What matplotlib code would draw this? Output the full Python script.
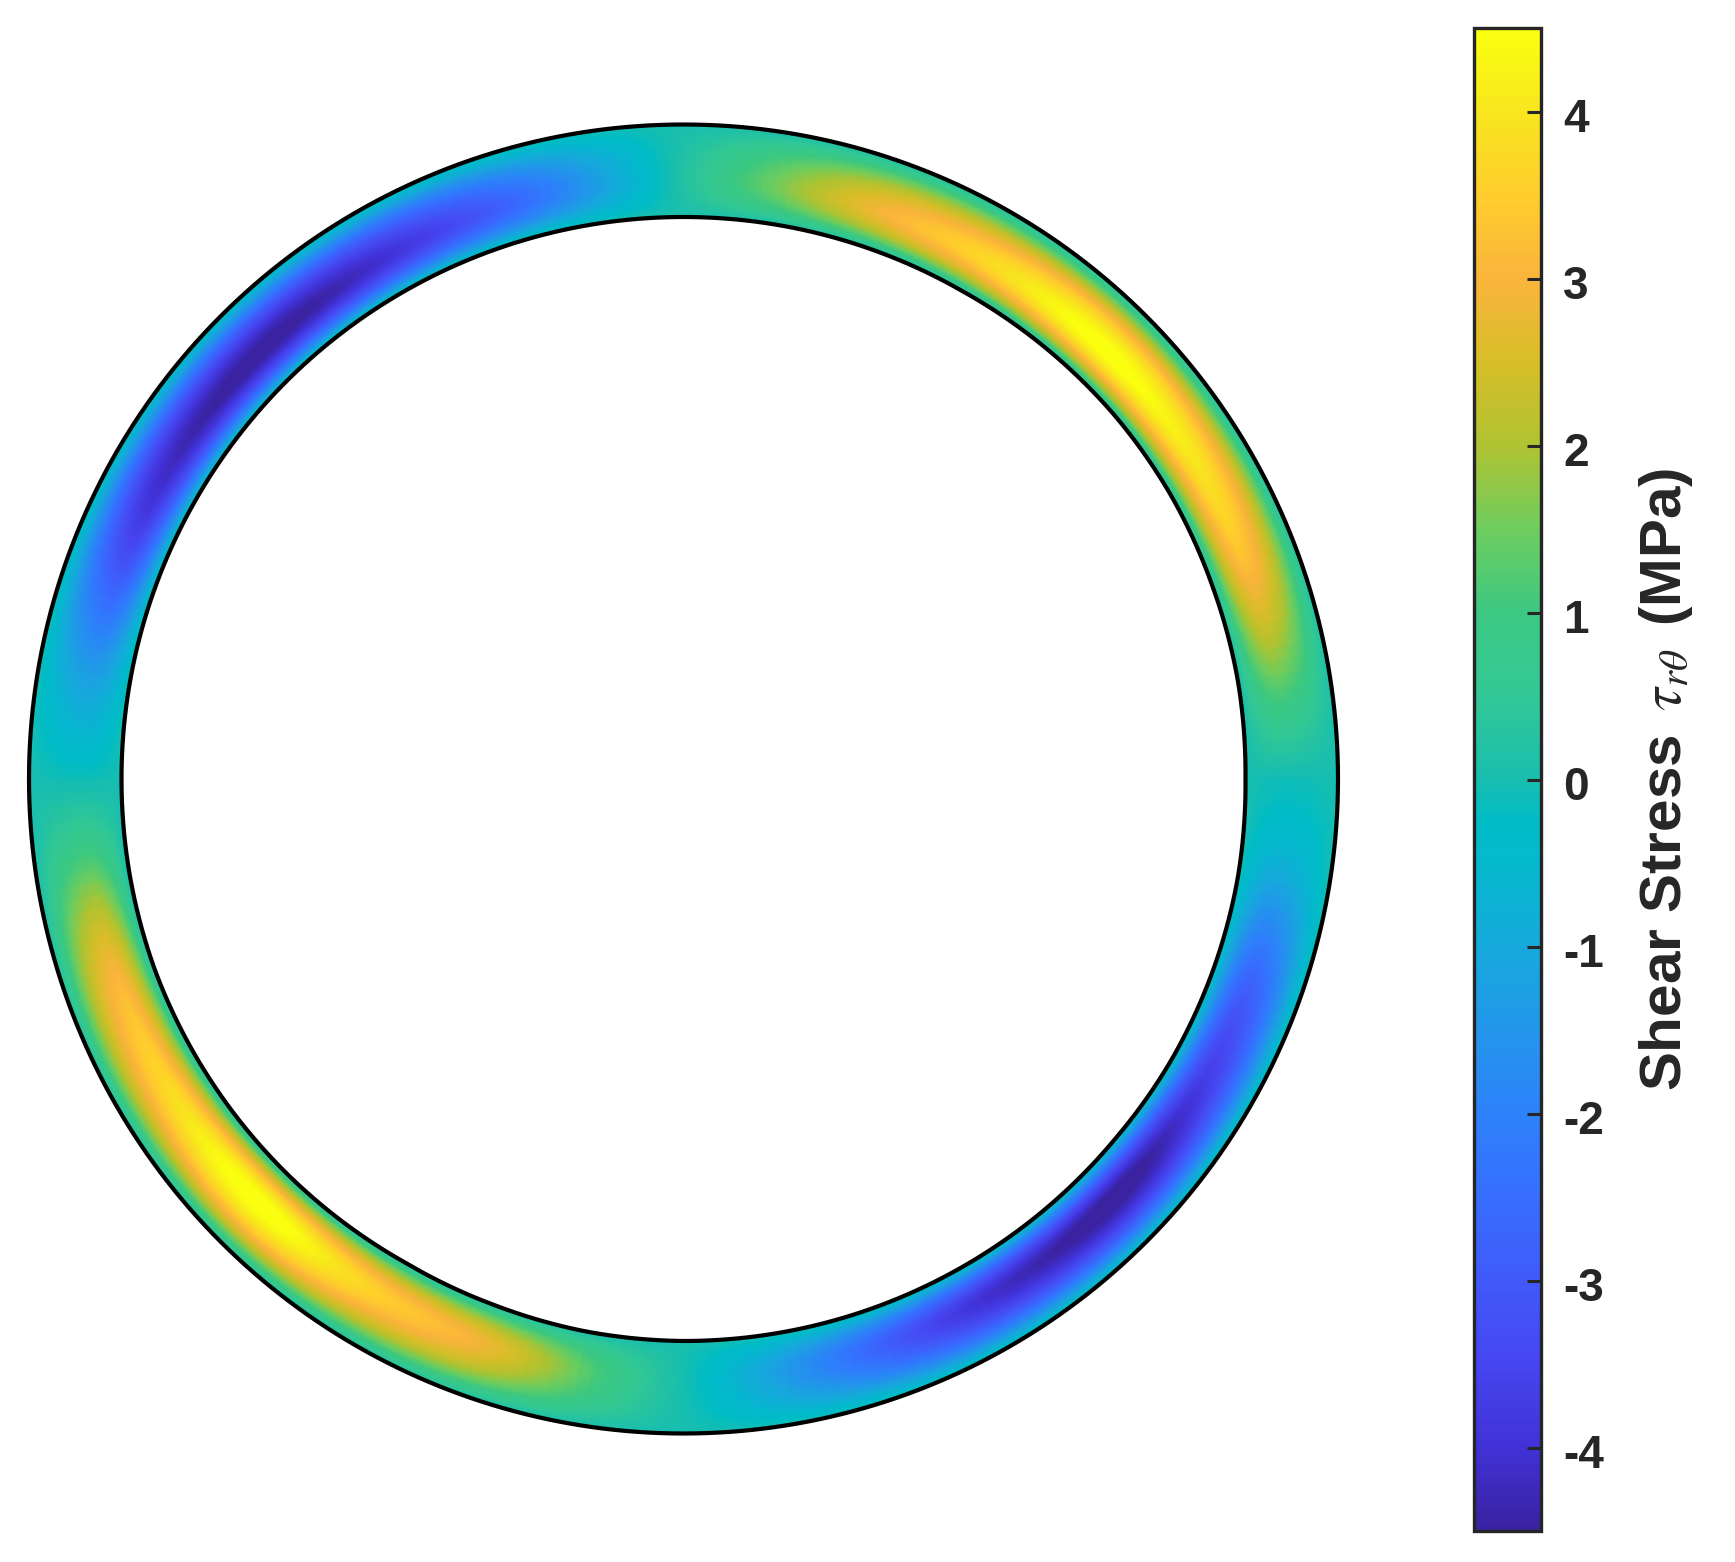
import numpy as np
import matplotlib
matplotlib.use('Agg')
import matplotlib.pyplot as plt
import matplotlib.tri as mtri
from matplotlib.colors import LinearSegmentedColormap
from matplotlib.transforms import ScaledTranslation

plt.rcParams['font.family'] = ['Liberation Sans', 'DejaVu Sans']
plt.rcParams['mathtext.fontset'] = 'stix'

W, H = 1735, 1562
cx, cy = 683.5, 779.0

# stress along the middle of the wall, one value every 10 deg from +x, ccw
angles = np.arange(0, 370, 10)
ridge = [-0.1, 1.5, 3.1, 3.9, 4.45, 4.45, 3.7, 3.0, 1.7, 0.2,
         -1.6, -3.1, -4.0, -4.5, -4.5, -4.1, -3.0, -1.3, -0.1,
         1.6, 3.1, 3.7, 4.45, 4.4, 3.5, 2.9, 1.4, 0.0,
         -1.4, -2.9, -4.0, -4.5, -4.5, -3.7, -2.8, -1.1, -0.1]
# how that value falls off across the wall, inner side to outer side
wall_pos = [0.0, 0.1, 0.2, 0.3, 0.4, 0.5, 0.6, 0.7, 0.8, 0.9, 1.0]
wall_shape = [0.03, 0.40, 0.70, 0.90, 1.0, 0.97, 0.87, 0.72, 0.52, 0.28, 0.04]
# inner edge is not quite round
r_inner = [562, 563, 563, 564, 564, 563, 562, 562, 562, 562,
           562, 562, 562, 562, 562, 562, 562, 562, 562,
           562, 562, 561, 560, 559, 558, 559, 561, 562,
           562, 562, 562, 562, 562, 563, 563, 563, 562]
r_outer = 654.5

cbar_ticks = [-4, -3, -2, -1, 0, 1, 2, 3, 4]
cbar_ticklabels = ['-4', '-3', '-2', '-1', '0', '1', '2', '3', '4']
vmin, vmax = -4.5, 4.5

cmap_vals = [-4.5, -4, -3.5, -3, -2.5, -2, -1.5, -1, -0.5, -0.25, 0, 0.5, 1, 1.5, 2, 2.5, 3, 3.5, 4, 4.5]
cmap_cols = ['#3a22a0', '#4132d7', '#4646f0', '#415afa', '#376eff', '#2d82fa', '#2396eb', '#16aadc',
             '#05b9cd', '#00bcc6', '#19beaf', '#32c896', '#3cc882', '#6ecd5f', '#afc332', '#d7be28',
             '#fab43c', '#ffcd2d', '#f8e61e', '#faff0f']
parula = LinearSegmentedColormap.from_list(
    'parula_like', [((v - vmin) / (vmax - vmin), c) for v, c in zip(cmap_vals, cmap_cols)], N=512)

field = np.outer(wall_shape, ridge)

# triangles are built in (angle, wall position) space so the edges stay round
nr, nt = len(wall_pos), len(angles)
u = np.tile(np.radians(angles) * 608.0, (nr, 1)).ravel()
v = np.repeat(np.array(wall_pos) * 92.0, nt)
tris = []
for i in range(nr - 1):
    for j in range(nt - 1):
        a = i * nt + j
        tris.append([a, a + 1, a + nt])
        tris.append([a + 1, a + nt + 1, a + nt])
tri = mtri.Triangulation(u, v, tris)
refiner = mtri.UniformTriRefiner(tri)
fine, z = refiner.refine_field(field.ravel(), subdiv=4)

th = fine.x / 608.0
s = fine.y / 92.0
rin = np.interp(np.degrees(th), angles, r_inner)
r = rin + s * (r_outer - rin)
x = r * np.cos(th)
y = r * np.sin(th)

fig = plt.figure(figsize=(W / 100, H / 100), dpi=100)

# one data unit is one pixel here
ax = fig.add_axes([0, 0, 1400 / W, 1])
ax.set_xlim(-cx, 1400 - cx)
ax.set_ylim(-(H - cy), cy)
ax.axis('off')

pc = ax.tripcolor(x, y, fine.triangles, z, shading='gouraud', cmap=parula, vmin=vmin, vmax=vmax)

line_t = np.radians(np.arange(0, 360.5, 0.5))
line_r = np.interp(np.degrees(line_t), angles, r_inner)
ax.plot(line_r * np.cos(line_t), line_r * np.sin(line_t), color='black', lw=3.0, solid_capstyle='butt')
ax.plot(r_outer * np.cos(line_t), r_outer * np.sin(line_t), color='black', lw=3.0, solid_capstyle='butt')

cax = fig.add_axes([1474 / W, (H - 1531) / H, 67 / W, 1503 / H])
cb = fig.colorbar(pc, cax=cax)
cb.set_ticks(cbar_ticks)
cb.set_ticklabels(cbar_ticklabels)
cb.ax.tick_params(direction='in', length=10, width=2.2, color='#262626', pad=16,
                  labelsize=33, labelcolor='#262626')
shift = ScaledTranslation(0, -2.5 / 72, fig.dpi_scale_trans)
for lab in cb.ax.get_yticklabels():
    lab.set_fontweight('bold')
    lab.set_transform(lab.get_transform() + shift)
cb.outline.set_edgecolor('#262626')
cb.outline.set_linewidth(2.4)
cb.set_label(r'Shear Stress $\,\tau_{r\theta}\,$ (MPa)', fontsize=42, fontweight='bold',
             color='#262626', labelpad=24)

fig.savefig('out.png', dpi=100)
